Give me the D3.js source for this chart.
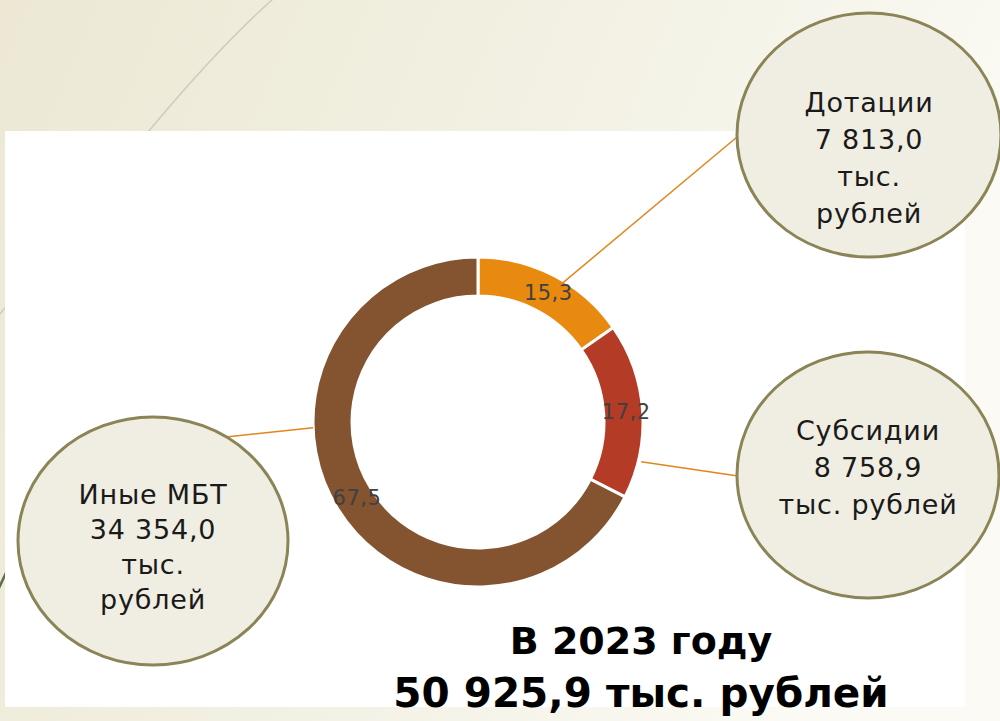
<!DOCTYPE html>
<html><head><meta charset="utf-8">
<script src="https://cdn.jsdelivr.net/npm/d3@7"></script>
<style>
html,body{margin:0;padding:0;overflow:hidden;}
svg{display:block;}
</style></head>
<body>
<script>
// ---- data ----
const categories = ["Дотации", "Субсидии", "Иные МБТ"];
const amounts = ["7 813,0", "8 758,9", "34 354,0"];
const shares = [15.3, 17.2, 67.5];
const shareLabels = ["15,3", "17,2", "67,5"];
const calloutLines = [
  ["Дотации", "7 813,0", "тыс.", "рублей"],
  ["Субсидии", "8 758,9", "тыс. рублей"],
  ["Иные МБТ", "34 354,0", "тыс.", "рублей"]
];
const titleLines = ["В 2023 году", "50 925,9 тыс. рублей"];
const colors = ["#E88A10", "#B43C27", "#845330"];

// ---- layout ----
const W = 1000, H = 721;
const svg = d3.select("body").append("svg").attr("width", W).attr("height", H);
const defs = svg.append("defs");
const grad = defs.append("linearGradient").attr("id", "bg")
  .attr("x1", "0").attr("y1", "0").attr("x2", "1").attr("y2", "0.3");
grad.append("stop").attr("offset", "0").attr("stop-color", "#ECE8D4");
grad.append("stop").attr("offset", "0.5").attr("stop-color", "#F2F0E2");
grad.append("stop").attr("offset", "1").attr("stop-color", "#FBFAF4");
svg.append("rect").attr("width", W).attr("height", H).attr("fill", "url(#bg)");

// decorative lines
svg.append("path").attr("d", "M273,-1 Q218,48 148,132 L-5,320")
  .attr("fill", "none").attr("stroke", "#CFCDBE").attr("stroke-width", 1.5);
svg.append("path").attr("d", "M-2,590 L12,560")
  .attr("fill", "none").attr("stroke", "#5E6B4A").attr("stroke-width", 2.5);

// white panel
svg.append("rect").attr("x", 5).attr("y", 131).attr("width", 960).attr("height", 576).attr("fill", "#FFFFFF");

// donut
const cx = 478, cy = 422, rOut = 165, rIn = 126;
const pie = d3.pie().sort(null).value(d => d)(shares);
const arc = d3.arc().innerRadius(rIn).outerRadius(rOut);
const g = svg.append("g").attr("transform", `translate(${cx},${cy})`);

const ellipses = [
  {cx: 869, cy: 135, rx: 132, ry: 122, dy: 22, lh: 37},
  {cx: 868, cy: 475, rx: 131, ry: 123, dy: -8, lh: 37},
  {cx: 153, cy: 541, rx: 135, ry: 124, dy: 5, lh: 35}
];
const connStart = [{a: 31, r: 160}, {a: 103.7, r: 168}, {a: 268, r: 165}];
const connEnd = [[737, 137], [738, 476], [226, 437]];

g.selectAll("path.slice").data(pie).join("path")
  .attr("class", "slice")
  .attr("d", arc)
  .attr("fill", (d, i) => colors[i])
  .attr("stroke", "#FFFFFF").attr("stroke-width", 3).attr("stroke-linejoin", "miter");

connStart.forEach((s, i) => {
  const rad = s.a * Math.PI / 180;
  const x0 = cx + s.r * Math.sin(rad), y0 = cy - s.r * Math.cos(rad);
  svg.append("line").attr("x1", x0).attr("y1", y0)
    .attr("x2", connEnd[i][0]).attr("y2", connEnd[i][1])
    .attr("stroke", "#E0861C").attr("stroke-width", 1.5);
});

// share labels
const labelArc = d3.arc().innerRadius((rIn + rOut) / 2).outerRadius((rIn + rOut) / 2);
g.selectAll("text.share").data(pie).join("text")
  .attr("class", "share")
  .attr("transform", d => `translate(${labelArc.centroid(d)})`)
  .attr("x", 3)
  .attr("text-anchor", "middle").attr("dy", "0.35em")
  .attr("font-family", "'DejaVu Sans', sans-serif").attr("font-size", 21)
  .attr("letter-spacing", 0.5)
  .attr("fill", "#404040")
  .text((d, i) => shareLabels[i]);

// callout ellipses
ellipses.forEach((e, i) => {
  svg.append("ellipse").attr("cx", e.cx).attr("cy", e.cy).attr("rx", e.rx).attr("ry", e.ry)
    .attr("fill", "#F0EEE2").attr("stroke", "#8A8456").attr("stroke-width", 3);
  const lines = calloutLines[i];
  const n = lines.length;
  const t = svg.append("text").attr("text-anchor", "middle")
    .attr("font-family", "'DejaVu Sans', sans-serif").attr("font-size", 27)
    .attr("letter-spacing", 0.8)
    .attr("fill", "#1A1A1A");
  lines.forEach((ln, k) => {
    t.append("tspan").attr("x", e.cx)
      .attr("y", e.cy + e.dy + (k - (n - 1) / 2) * e.lh + 10)
      .text(ln);
  });
});

// title
const tt = svg.append("text").attr("text-anchor", "middle")
  .attr("font-family", "'DejaVu Sans', sans-serif").attr("font-weight", "bold")
  .attr("fill", "#000");
titleLines.forEach((ln, k) => {
  tt.append("tspan").attr("x", 641).attr("y", 654 + k * 53)
    .attr("font-size", k === 0 ? 38 : 40.5).text(ln);
});
</script>
</body></html>
